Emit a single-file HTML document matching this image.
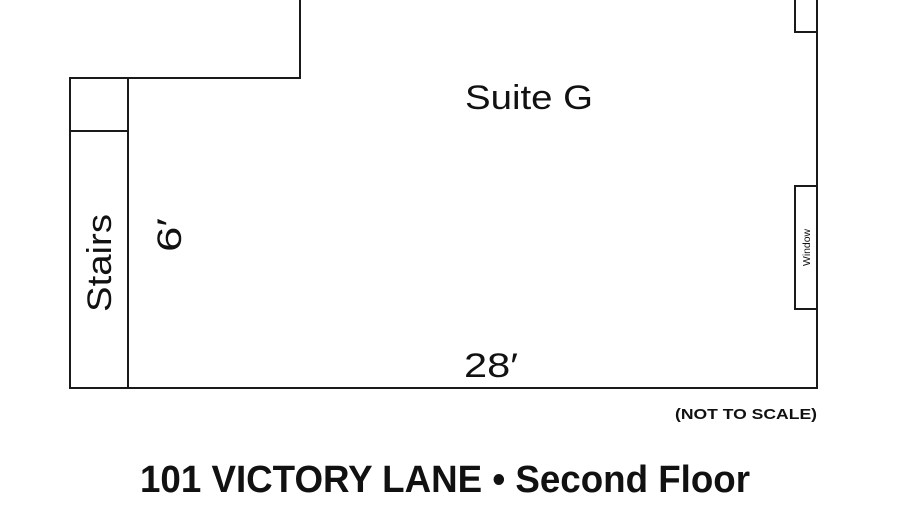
<!DOCTYPE html>
<html><head><style>html,body{margin:0;padding:0;background:#fff}svg{display:block}</style></head>
<body>
<svg width="900" height="529" viewBox="0 0 900 529" xmlns="http://www.w3.org/2000/svg" font-family="Liberation Sans, sans-serif">
<g fill="none" stroke="#1a1a1a" stroke-width="2">
<polyline points="300,0 300,78 70,78 70,388 817,388 817,0"/>
<line x1="128" y1="78" x2="128" y2="388"/>
<line x1="70" y1="131" x2="128" y2="131"/>
<polyline points="795,0 795,32 817,32"/>
<rect x="795" y="186" width="22" height="123"/>
</g>
<g fill="#111">
<text x="465" y="109" font-size="34" textLength="128" lengthAdjust="spacingAndGlyphs">Suite G</text>
<text x="464" y="377" font-size="34" textLength="54" lengthAdjust="spacingAndGlyphs">28′</text>
<text transform="translate(181,252) rotate(-90)" font-size="34" textLength="34" lengthAdjust="spacingAndGlyphs">6′</text>
<text transform="translate(111,312) rotate(-90)" font-size="34" textLength="98" lengthAdjust="spacingAndGlyphs">Stairs</text>
<text transform="translate(810,266) rotate(-90)" font-size="10" textLength="37" lengthAdjust="spacingAndGlyphs">Window</text>
<text x="675" y="419" font-size="15" font-weight="bold" textLength="142" lengthAdjust="spacingAndGlyphs">(NOT TO SCALE)</text>
<text x="140" y="492" font-size="38" font-weight="bold" textLength="610" lengthAdjust="spacingAndGlyphs">101 VICTORY LANE • Second Floor</text>
</g>
</svg>
</body></html>
